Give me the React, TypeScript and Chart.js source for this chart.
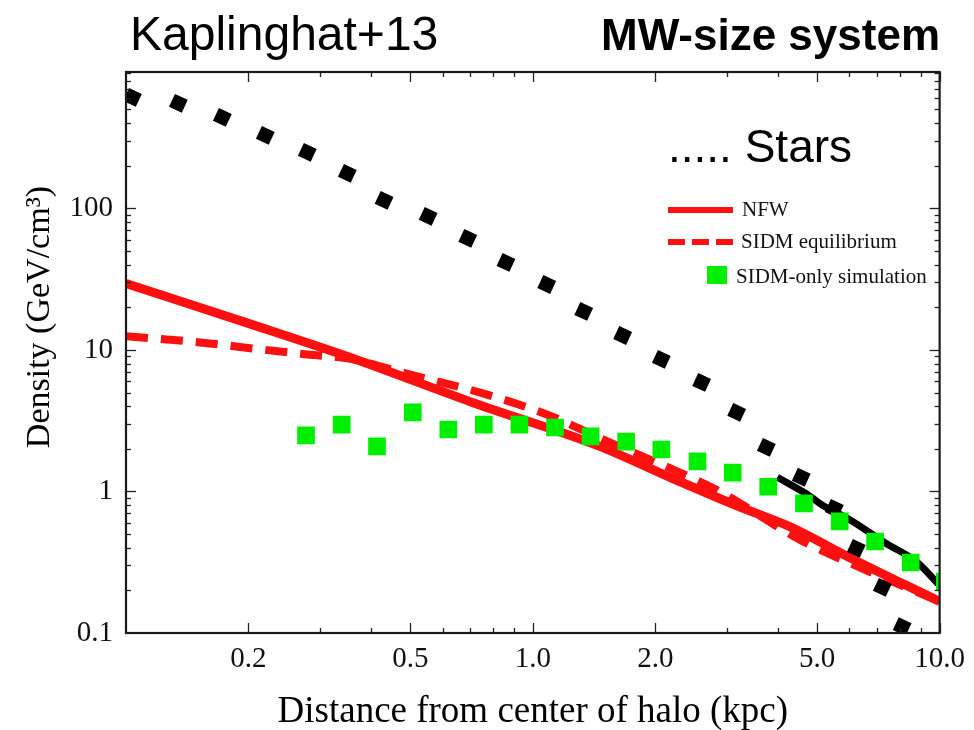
import React, { useEffect, useRef } from "react";
import { Chart, registerables } from "chart.js";

Chart.register(...registerables);

// Stellar density profile (kpc, GeV/cm^3)
const starRadius = [0.1037, 0.1345, 0.1725, 0.22, 0.279, 0.35, 0.431, 0.553, 0.692, 0.859, 1.082, 1.334, 1.663, 2.07, 2.6, 3.17, 3.75, 4.57, 5.51, 6.24, 7.23, 8.09];
const starDensity = [609, 553, 440, 328, 249, 177, 114, 87.8, 61.4, 41.5, 29.0, 18.7, 12.65, 8.57, 5.89, 3.62, 2.05, 1.26, 0.758, 0.396, 0.21, 0.111];

// NFW halo profile
const nfwRadius = [0.1, 0.2, 0.362, 0.71, 1.45, 2.2, 3.22, 4.27, 6.0, 10];
const nfwDensity = [29.5, 15.4, 8.7, 4.26, 2.1, 1.24, 0.78, 0.566, 0.342, 0.167];

// SIDM equilibrium profile
const sidmRadius = [0.1, 0.152, 0.214, 0.279, 0.35, 0.508, 0.754, 1.082, 1.545, 2.3, 2.88, 4.52, 6.71, 10];
const sidmDensity = [12.5, 11.3, 10.1, 9.29, 8.71, 6.61, 4.93, 3.5, 2.22, 1.36, 1.0, 0.458, 0.272, 0.167];

// SIDM-only simulation bins
const simRadius = [0.277, 0.339, 0.414, 0.507, 0.62, 0.758, 0.927, 1.134, 1.387, 1.696, 2.07, 2.54, 3.1, 3.79, 4.64, 5.68, 6.94, 8.49, 10.3];
const simDensity = [2.49, 2.97, 2.08, 3.62, 2.74, 2.97, 2.97, 2.83, 2.45, 2.25, 1.98, 1.63, 1.36, 1.08, 0.823, 0.614, 0.443, 0.315, 0.231];

// Outer simulation curve (black band)
const outerRadius = [3.99, 4.73, 5.12, 6.0, 7.39, 8.76, 10];
const outerDensity = [1.26, 0.953, 0.809, 0.634, 0.429, 0.32, 0.217];

// Axis ticks
const xTickValues = [0.2, 0.5, 1, 2, 5, 10];
const xTickLabels = ["0.2", "0.5", "1.0", "2.0", "5.0", "10.0"];
const xMinorTicks = [0.3, 0.4, 0.6, 0.7, 0.8, 0.9, 3, 4, 6, 7, 8, 9];
const yTickValues = [0.1, 1, 10, 100];
const yTickLabels = ["0.1", "1", "10", "100"];
const yMinorTicks = [
  0.2, 0.3, 0.4, 0.5, 0.6, 0.7, 0.8, 0.9,
  2, 3, 4, 5, 6, 7, 8, 9,
  20, 30, 40, 50, 60, 70, 80, 90,
  200, 300, 400, 500, 600, 700, 800, 900,
];

const seriesLabels = ["NFW", "SIDM equilibrium", "SIDM-only simulation"];

const SERIF = '"Liberation Serif", "Times New Roman", serif';
const SANS = '"Liberation Sans", Arial, sans-serif';
const RED = "#ff1010";
const GREEN = "#00ee00";

const toPoints = (xs: number[], ys: number[]) => xs.map((x, i) => ({ x, y: ys[i] }));

const frameTicksPlugin = {
  id: "frameTicks",
  afterDatasetsDraw(chart: any) {
    const { ctx, chartArea: a, scales } = chart;
    const xs = scales.x;
    const ys = scales.y;
    ctx.save();
    ctx.strokeStyle = "#222";
    ctx.lineWidth = 1.3;
    const seg = (x1: number, y1: number, x2: number, y2: number) => {
      ctx.beginPath();
      ctx.moveTo(x1, y1);
      ctx.lineTo(x2, y2);
      ctx.stroke();
    };
    const xTick = (v: number, len: number) => {
      const px = Math.round(xs.getPixelForValue(v)) + 0.5;
      seg(px, a.bottom, px, a.bottom - len);
      seg(px, a.top, px, a.top + len);
    };
    const yTick = (v: number, len: number) => {
      const py = Math.round(ys.getPixelForValue(v)) + 0.5;
      if (py < a.top || py > a.bottom) return;
      seg(a.left, py, a.left + len, py);
      seg(a.right, py, a.right - len, py);
    };
    xTickValues.forEach((v) => xTick(v, 10));
    xMinorTicks.forEach((v) => xTick(v, 5));
    yTickValues.forEach((v) => yTick(v, 10));
    yMinorTicks.forEach((v) => yTick(v, 5));
    ctx.lineWidth = 2.2;
    ctx.strokeStyle = "#1a1a1a";
    ctx.strokeRect(a.left, a.top, a.right - a.left, a.bottom - a.top);
    ctx.restore();
  },
};

const annotationPlugin = {
  id: "annotations",
  afterDraw(chart: any) {
    const { ctx, chartArea: a } = chart;
    ctx.save();
    ctx.fillStyle = "#000";
    ctx.textBaseline = "alphabetic";

    ctx.font = `48px ${SANS}`;
    ctx.textAlign = "left";
    ctx.fillText("Kaplinghat+13", 130, 50);

    ctx.font = `bold 44px ${SANS}`;
    ctx.textAlign = "right";
    ctx.fillText("MW-size system", 940, 50);

    ctx.font = `46px ${SANS}`;
    ctx.textAlign = "left";
    ctx.fillText("..... Stars", 668, 162);

    // axis titles
    ctx.font = `37px ${SERIF}`;
    ctx.textAlign = "center";
    ctx.fillText("Distance from center of halo (kpc)", (a.left + a.right) / 2, 722);

    ctx.save();
    ctx.translate(40, 317);
    ctx.rotate(-Math.PI / 2);
    ctx.font = `34px ${SERIF}`;
    ctx.textAlign = "center";
    ctx.textBaseline = "middle";
    ctx.fillText("Density (GeV/cm\u00b3)", 0, 0);
    ctx.restore();

    // legend
    ctx.strokeStyle = RED;
    ctx.lineWidth = 6;
    ctx.lineCap = "butt";
    ctx.beginPath();
    ctx.moveTo(668, 210);
    ctx.lineTo(733, 210);
    ctx.stroke();
    ctx.setLineDash([17, 7]);
    ctx.beginPath();
    ctx.moveTo(668, 242);
    ctx.lineTo(733, 242);
    ctx.stroke();
    ctx.setLineDash([]);
    ctx.fillStyle = GREEN;
    ctx.fillRect(707, 266, 20, 18);

    ctx.fillStyle = "#111";
    ctx.font = `21px ${SERIF}`;
    ctx.textAlign = "left";
    ctx.fillText(seriesLabels[0], 742, 216);
    ctx.fillText(seriesLabels[1], 741, 248);
    ctx.fillText(seriesLabels[2], 736, 283);
    ctx.restore();
  },
};

export default function App() {
  const canvasRef = useRef<HTMLCanvasElement | null>(null);

  useEffect(() => {
    const canvas = canvasRef.current;
    if (!canvas) return;
    const chart = new Chart(canvas, {
      type: "scatter",
      data: {
        datasets: [
          {
            label: seriesLabels[2],
            data: toPoints(simRadius, simDensity),
            showLine: false,
            pointStyle: "rect",
            pointRadius: 12.5,
            pointBackgroundColor: GREEN,
            pointBorderWidth: 0,
            pointBorderColor: GREEN,
            order: 0,
            clip: 0,
          },
          {
            label: "Stars",
            data: toPoints(starRadius, starDensity),
            showLine: false,
            pointStyle: "rect",
            pointRotation: 25,
            pointRadius: 10,
            pointBackgroundColor: "#000",
            pointBorderWidth: 0,
            pointBorderColor: "#000",
            order: 1,
            clip: 0,
          },
          {
            label: "outer",
            data: toPoints(outerRadius, outerDensity),
            showLine: true,
            borderColor: "#000",
            borderWidth: 7,
            pointRadius: 0,
            cubicInterpolationMode: "monotone",
            order: 2,
            clip: 0,
          },
          {
            label: seriesLabels[1],
            data: toPoints(sidmRadius, sidmDensity),
            showLine: true,
            borderColor: RED,
            borderWidth: 8,
            borderDash: [22, 13],
            borderCapStyle: "butt",
            pointRadius: 0,
            cubicInterpolationMode: "monotone",
            order: 3,
            clip: 0,
          },
          {
            label: seriesLabels[0],
            data: toPoints(nfwRadius, nfwDensity),
            showLine: true,
            borderColor: RED,
            borderWidth: 9,
            pointRadius: 0,
            cubicInterpolationMode: "monotone",
            order: 4,
            clip: 0,
          },
        ],
      },
      options: {
        animation: false,
        responsive: false,
        devicePixelRatio: 1,
        layout: { padding: { top: 72, right: 33, left: 0, bottom: 0 } },
        plugins: {
          legend: { display: false },
          tooltip: { enabled: false },
          title: { display: false },
        },
        scales: {
          x: {
            type: "logarithmic",
            position: "bottom",
            min: 0.1,
            max: 10,
            grid: { display: false, drawTicks: false },
            border: { display: false },
            afterBuildTicks: (scale: any) => {
              scale.ticks = xTickValues.map((value) => ({ value }));
            },
            afterFit: (scale: any) => {
              scale.height = 97;
            },
            ticks: {
              autoSkip: false,
              maxRotation: 0,
              padding: 9,
              color: "#111",
              font: { family: SERIF, size: 29 },
              callback: (_v: any, i: number) => xTickLabels[i],
            },
          },
          y: {
            type: "logarithmic",
            position: "left",
            min: 0.1,
            max: 920,
            grid: { display: false, drawTicks: false },
            border: { display: false },
            afterBuildTicks: (scale: any) => {
              scale.ticks = yTickValues.map((value) => ({ value }));
            },
            afterFit: (scale: any) => {
              scale.width = 126;
            },
            ticks: {
              autoSkip: false,
              padding: 13,
              color: "#111",
              font: { family: SERIF, size: 29 },
              callback: (_v: any, i: number) => yTickLabels[i],
            },
          },
        },
      },
      plugins: [frameTicksPlugin, annotationPlugin],
    } as any);
    return () => chart.destroy();
  }, []);

  return (
    <div style={{ position: "fixed", left: 0, top: 0, width: 974, height: 730, background: "#fff" }}>
      <canvas ref={canvasRef} width={974} height={730} style={{ display: "block" }} />
    </div>
  );
}
